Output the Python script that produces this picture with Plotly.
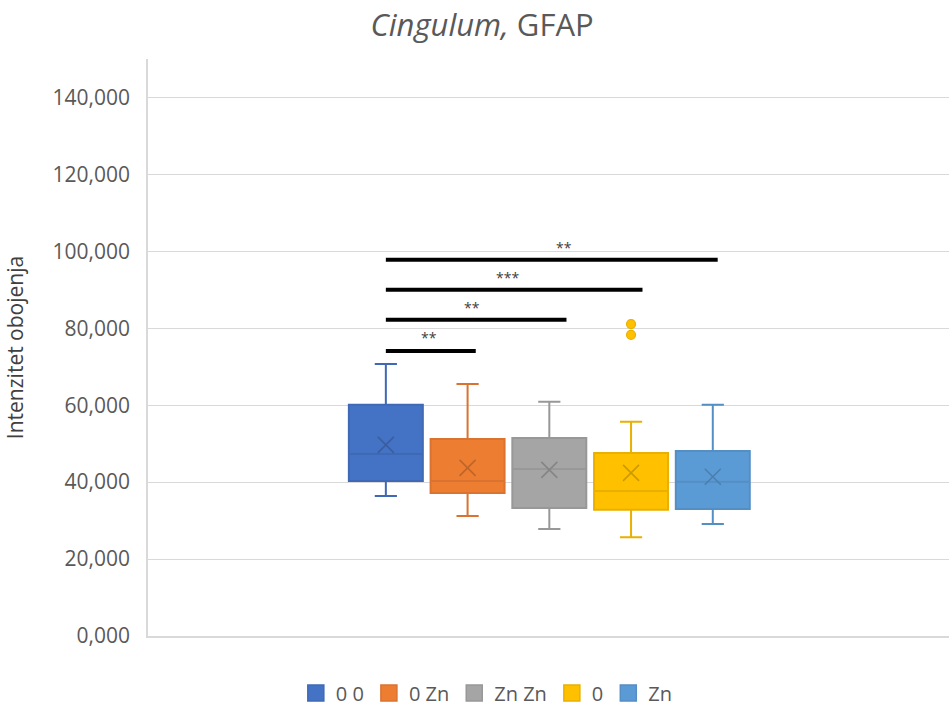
import plotly.graph_objects as go

# ---- data ----
groups = ["0 0", "0 Zn", "Zn Zn", "0", "Zn"]
positions = [1, 2, 3, 4, 5]
lower_whisker = [36.4, 31.2, 27.8, 25.7, 29.1]
q1_vals = [40.3, 37.2, 33.3, 32.8, 33.0]
median_vals = [47.3, 40.3, 43.4, 37.7, 40.1]
q3_vals = [60.1, 51.2, 51.5, 47.6, 48.1]
upper_whisker = [70.7, 65.5, 60.9, 55.7, 60.1]
mean_vals = [49.7, 43.7, 43.2, 42.4, 41.4]
outlier_group = 3
outlier_vals = [81.1, 78.3]

# significance bars (from group 1 to end position)
sig_start = [1.0, 1.0, 1.0, 1.0]
sig_end = [2.10, 3.21, 4.14, 5.06]
sig_y = [74.1, 82.2, 90.0, 97.8]
sig_text = ["**", "**", "***", "**"]
sig_text_x = [1.53, 2.06, 2.49, 3.18]
sig_text_y = [77.5, 85.3, 93.1, 100.9]

y_ticks = [0, 20, 40, 60, 80, 100, 120, 140]

fills = ["#4472C4", "#ED7D31", "#A5A5A5", "#FFC000", "#5B9BD5"]
lines = ["#3F69B5", "#DA7330", "#989898", "#E9B000", "#548FC4"]
xcols = ["#3A5E9F", "#BF6529", "#858585", "#CC9A00", "#4A7FAE"]

FONT = "Open Sans"
fig = go.Figure()

for i, g in enumerate(groups):
    fig.add_trace(go.Box(
        name=g,
        x=[positions[i]],
        q1=[q1_vals[i]], median=[median_vals[i]], q3=[q3_vals[i]],
        lowerfence=[lower_whisker[i]], upperfence=[upper_whisker[i]],
        width=0.905,
        fillcolor=fills[i],
        line=dict(color=lines[i], width=2),
        whiskerwidth=0.3,
        boxpoints=False,
        showlegend=False,
        hoverinfo="skip",
    ))

# legend entries (square swatches)
for i, g in enumerate(groups):
    fig.add_trace(go.Scatter(
        name=g, x=[None], y=[None], mode="markers",
        marker=dict(symbol="square", size=18, color=fills[i],
                    line=dict(color=lines[i], width=1.5)),
        showlegend=True,
    ))

for i, g in enumerate(groups):
    fig.add_trace(go.Scatter(
        x=[positions[i]], y=[mean_vals[i]], mode="markers",
        marker=dict(symbol="x-thin", size=16, line=dict(color=xcols[i], width=1.6)),
        showlegend=False, hoverinfo="skip",
    ))

fig.add_trace(go.Scatter(
    x=[positions[outlier_group]] * len(outlier_vals), y=outlier_vals, mode="markers",
    marker=dict(symbol="circle", size=9, color=fills[outlier_group],
                line=dict(color=lines[outlier_group], width=1.2)),
    showlegend=False, hoverinfo="skip",
))

for s, e, yv in zip(sig_start, sig_end, sig_y):
    fig.add_shape(type="line", x0=s, x1=e, y0=yv, y1=yv, xref="x", yref="y",
                  line=dict(color="black", width=4))
for tx, ty, t in zip(sig_text_x, sig_text_y, sig_text):
    fig.add_annotation(x=tx, y=ty, text=t, showarrow=False, xref="x", yref="y",
                       font=dict(family=FONT, size=14, color="#404040"))

fig.update_layout(
    width=949, height=709,
    paper_bgcolor="white", plot_bgcolor="white",
    margin=dict(l=148, r=0, t=59, b=73, autoexpand=False),
    boxmode="overlay",
    title=dict(text="<i>Cingulum,</i> GFAP", x=0.508, xanchor="center",
               y=0.965, yanchor="middle",
               font=dict(family=FONT, size=31, color="#595959")),
    legend=dict(orientation="h", x=0.423, xanchor="center", y=-0.099, yanchor="middle",
                font=dict(family=FONT, size=20, color="#595959"),
                itemsizing="trace", itemwidth=30),
    font=dict(family=FONT),
    separators=",.",
)
fig.update_xaxes(range=[-1.91, 7.89], showticklabels=False, showgrid=False,
                 zeroline=False, showline=True, linecolor="#D9D9D9", linewidth=1.5)
fig.update_yaxes(range=[0, 150], tickvals=y_ticks, tickformat=".3f",
                 showgrid=True, gridcolor="#D9D9D9", gridwidth=1.3,
                 zeroline=False, showline=True, linecolor="#D9D9D9", linewidth=1.5,
                 ticks="", ticklabelstandoff=12,
                 tickfont=dict(family=FONT, size=21, color="#595959"),
                 title=dict(text="Intenzitet obojenja", standoff=23,
                            font=dict(family=FONT, size=21, color="#404040")),
                 automargin=False)

fig.write_html("out.html", config={"displayModeBar": False},
               post_script="document.body.style.margin='0px';")
